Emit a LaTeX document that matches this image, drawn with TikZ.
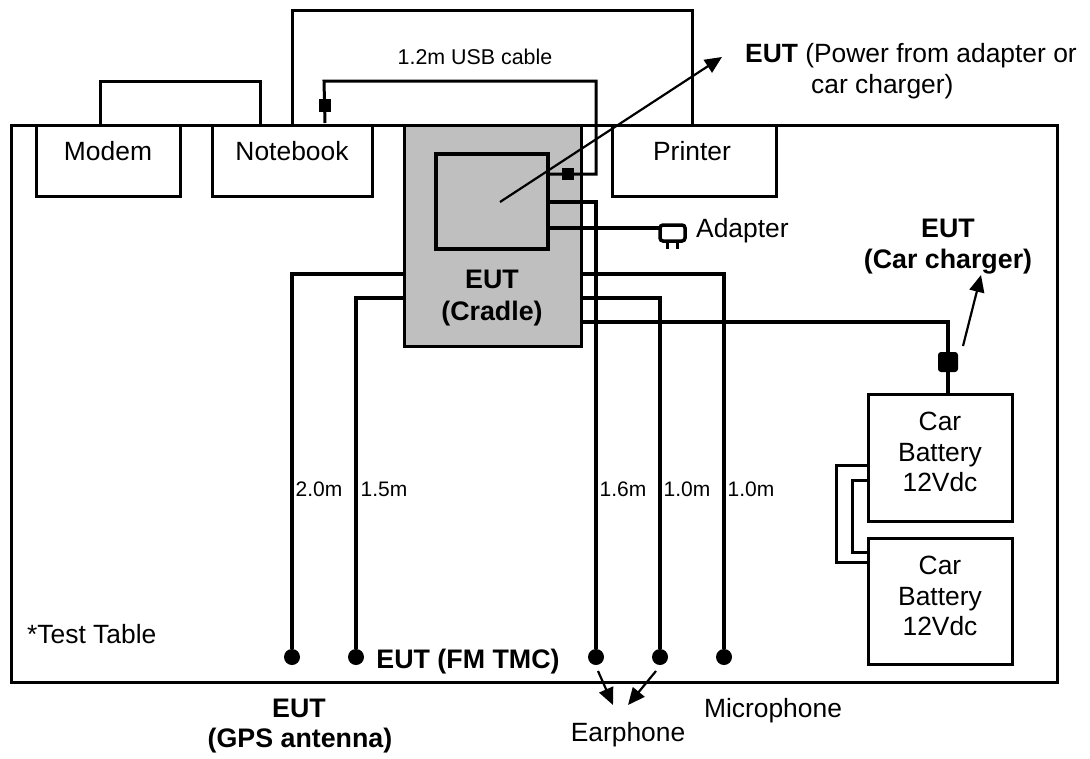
\documentclass[tikz,border=0pt]{standalone}
\usepackage{fontspec}
\setmainfont{Liberation Sans}
\usetikzlibrary{arrows.meta}
\newcommand{\bigtxt}{\fontsize{26.4}{30}\selectfont}
\newcommand{\boldtxt}{\fontsize{26.8}{30}\selectfont\bfseries}
\newcommand{\smalltxt}{\fontsize{21}{25}\selectfont}
\tikzset{
 box/.style={draw=black,line width=3pt,fill=white,inner sep=0pt,outer sep=0pt,anchor=north west},
 wire/.style={line width=3pt,line join=miter},
 thick wire/.style={line width=4pt,line join=miter},
 lab/.style={inner sep=0pt,font=\bigtxt,text=black,anchor=base},
 blab/.style={inner sep=0pt,font=\boldtxt,text=black,anchor=base},
 slab/.style={inner sep=0pt,font=\smalltxt,text=black,anchor=base},
 ptr/.style={line width=2.2pt,-{Triangle[length=17pt,width=15pt]}},
 jack/.style={circle,fill=black,minimum size=16pt,inner sep=0pt,outer sep=0pt},
 ferrite/.style={rectangle,fill=black,minimum size=12pt,inner sep=0pt,outer sep=0pt},
}
\begin{document}
\begin{tikzpicture}[x=1pt,y=-1pt]
\useasboundingbox (0,0) rectangle (1090,758);
% table and upper links
\draw[wire] (100,125) |- (260,81) -- (260,125);
\draw[wire] (292,125) |- (692,10) -- (692,125);
\node[box,fill=none,minimum width=1046pt,minimum height=557pt] (table) at (11,125) {};
% boxes
\node[box,minimum width=144pt,minimum height=71pt] (modem) at (36,125) {};
\node[lab] (tmodem) at (108,160) {Modem};
\node[box,minimum width=160pt,minimum height=71pt] (notebook) at (212,125) {};
\node[lab] (tnote) at (292,160) {Notebook};
\node[box,minimum width=164pt,minimum height=71pt] (printer) at (612,125) {};
\node[lab] (tprint) at (692,160) {Printer};
\node[box,fill=black!25,minimum width=177pt,minimum height=221pt] (cradle) at (404,125) {};
\node[box,line width=4pt,fill=black!25,minimum width=112pt,minimum height=95pt] (eut) at (436,154) {};
\node[blab] (tc1) at (492,288) {EUT};
\node[blab] (tc2) at (492,320.5) {(Cradle)};
% batteries
\draw[wire] (868,465) -- (836,465) |- (868,562);
\draw[wire] (868,480) -- (852,480) |- (868,552);
\node[box,minimum width=144pt,minimum height=127pt] (bat1) at (868,394) {};
\node[box,minimum width=144pt,minimum height=126pt] (bat2) at (868,538) {};
\node[lab] (b11) at (940,430) {Car};
\node[lab] (b12) at (940,461) {Battery};
\node[lab] (b13) at (940,491) {12Vdc};
\node[lab] (b21) at (940,574) {Car};
\node[lab] (b22) at (940,605) {Battery};
\node[lab] (b23) at (940,635) {12Vdc};
% USB cable
\coordinate (usbN) at (325,123);
\draw[wire] (usbN) -- (324,81) -| (596,174) -- (548,174);
\node[ferrite,minimum width=12pt,minimum height=13pt] (f1) at (325,105) {};
\node[ferrite] (f2) at (568,174) {};
% jacks
\node[jack] (j1) at (292,657) {};
\node[jack] (j2) at (356,657) {};
\node[jack] (j3) at (596,657) {};
\node[jack] (j4) at (660,657) {};
\node[jack] (j5) at (724,657) {};
\draw[thick wire] (404,274) -| (j1);
\draw[thick wire] (404,298) -| (j2);
\draw[thick wire] (548,202) -| (j3);
\draw[thick wire] (581,298) -| (j4);
\draw[thick wire] (581,274) -| (j5);
\coordinate (batin) at (948,393);
\draw[thick wire] (581,322) -| (batin);
\draw[thick wire] (548,228) -- (660,228);
% adapter plug
\draw[line width=3.5pt,rounded corners=3pt,fill=white] (660,225) rectangle (685,241);
\draw[line width=3pt] (667,241) -- (667,249) (677,241) -- (677,249);
\node[lab,anchor=base west] (tad) at (696,237) {Adapter};
% charger plug
\node[rectangle,rounded corners=3pt,fill=black,minimum size=20pt,inner sep=0pt] (chg) at (948,362) {};
% pointers
\coordinate (a0) at (500,202);
\coordinate (a1) at (722,57);
\draw[ptr] (a0) -- (a1);
\coordinate (b0) at (963,346);
\coordinate (b1) at (981,275);
\draw[ptr] (b0) -- (b1);
\coordinate (c0) at (598,671);
\coordinate (c1) at (613,705);
\draw[ptr] (c0) -- (c1);
\coordinate (d0) at (656,671);
\coordinate (d1) at (628,705);
\draw[ptr] (d0) -- (d1);
% labels
\node[slab] (tusb) at (475,64) {\fontsize{21.4}{25}\selectfont 1.2m USB cable};
\node[lab,anchor=base west] (tp1) at (745,62) {\textbf{EUT} (Power from adapter or};
\node[lab,anchor=base west] (tp2) at (811,93) {car charger)};
\node[blab] (tch1) at (948,237) {EUT};
\node[blab] (tch2) at (948,268) {(Car charger)};
\node[slab] (l1) at (319,496) {2.0m};
\node[slab] (l2) at (384,496) {1.5m};
\node[slab] (l3) at (623,496) {1.6m};
\node[slab] (l4) at (687,496) {1.0m};
\node[slab] (l5) at (751,496) {1.0m};
\node[lab,anchor=base west] (ttab) at (27,643) {*Test Table};
\node[blab] (tfm) at (468,668) {EUT (FM TMC)};
\node[blab] (tg1) at (299,717) {EUT};
\node[blab] (tg2) at (300,747) {(GPS antenna)};
\node[lab] (tmic) at (773,717) {Microphone};
\node[lab] (tear) at (628,741) {Earphone};
\end{tikzpicture}
\end{document}
